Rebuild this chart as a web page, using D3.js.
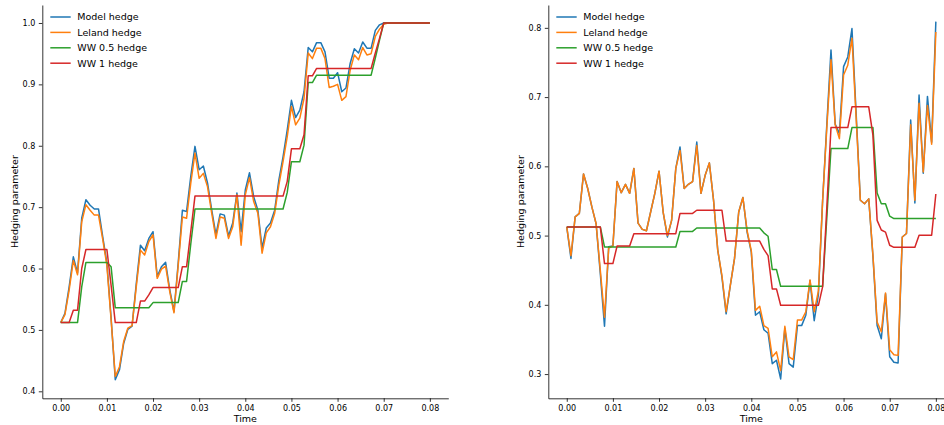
<!DOCTYPE html>
<meta charset="utf-8">
<style>
  body { margin: 0; background: #fff; }
  svg text { font-family: "DejaVu Sans", sans-serif; fill: #000; }
</style>
<script src="https://d3js.org/d3.v7.min.js"></script>
<div id="chart"></div>
<script>
// time grid: 0 .. 0.08, 88 steps
var nSteps = 88, T = 0.08;
var time = d3.range(nSteps + 1).map(function(i) { return i * T / nSteps; });

var seriesNames = ["Model hedge", "Leland hedge", "WW 0.5 hedge", "WW 1 hedge"];
var colors = ["#1f77b4", "#ff7f0e", "#2ca02c", "#d62728"];
var xTicks = [0, 0.01, 0.02, 0.03, 0.04, 0.05, 0.06, 0.07, 0.08];

// ---- left panel ----
var leftModel = [0.512, 0.527, 0.570, 0.619, 0.593, 0.682, 0.712, 0.703, 0.697, 0.697,
  0.652, 0.609, 0.520, 0.419, 0.435, 0.478, 0.501, 0.506, 0.575, 0.638,
  0.629, 0.649, 0.660, 0.587, 0.603, 0.610, 0.565, 0.530, 0.609, 0.695,
  0.693, 0.750, 0.799, 0.761, 0.767, 0.739, 0.695, 0.655, 0.689, 0.687,
  0.653, 0.674, 0.723, 0.660, 0.728, 0.756, 0.717, 0.695, 0.633, 0.666,
  0.674, 0.695, 0.744, 0.782, 0.826, 0.874, 0.846, 0.858, 0.888, 0.960,
  0.953, 0.968, 0.968, 0.953, 0.910, 0.910, 0.919, 0.888, 0.894, 0.934,
  0.958, 0.951, 0.969, 0.959, 0.959, 0.988, 0.997, 1.000, 1.000, 1.000,
  1.000, 1.000, 1.000, 1.000, 1.000, 1.000, 1.000, 1.000, 1.000];
var leftLeland = [0.512, 0.525, 0.565, 0.613, 0.590, 0.676, 0.704, 0.695, 0.687, 0.687,
  0.648, 0.605, 0.517, 0.424, 0.440, 0.481, 0.503, 0.507, 0.570, 0.630,
  0.622, 0.644, 0.655, 0.584, 0.599, 0.604, 0.562, 0.528, 0.605, 0.684,
  0.682, 0.739, 0.788, 0.747, 0.755, 0.733, 0.690, 0.649, 0.684, 0.682,
  0.649, 0.668, 0.720, 0.638, 0.720, 0.748, 0.709, 0.690, 0.625, 0.658,
  0.668, 0.690, 0.736, 0.774, 0.815, 0.864, 0.834, 0.845, 0.877, 0.951,
  0.942, 0.959, 0.959, 0.942, 0.895, 0.897, 0.900, 0.874, 0.880, 0.923,
  0.948, 0.940, 0.960, 0.948, 0.950, 0.978, 0.990, 0.998, 1.000, 1.000,
  1.000, 1.000, 1.000, 1.000, 1.000, 1.000, 1.000, 1.000, 1.000];
var leftWW05 = [0.512, 0.512, 0.512, 0.512, 0.512, 0.570, 0.610, 0.610, 0.610, 0.610,
  0.610, 0.610, 0.603, 0.536, 0.536, 0.536, 0.536, 0.536, 0.536, 0.536,
  0.536, 0.536, 0.5445, 0.5445, 0.5445, 0.5445, 0.5445, 0.5445, 0.5445, 0.579,
  0.579, 0.640, 0.697, 0.697, 0.697, 0.697, 0.697, 0.697, 0.697, 0.697,
  0.697, 0.697, 0.697, 0.697, 0.697, 0.697, 0.697, 0.697, 0.697, 0.697,
  0.697, 0.697, 0.697, 0.697, 0.724, 0.774, 0.774, 0.774, 0.801, 0.903,
  0.903, 0.915, 0.915, 0.915, 0.915, 0.915, 0.915, 0.915, 0.915, 0.915,
  0.915, 0.915, 0.915, 0.915, 0.915, 0.943, 0.972, 1.000, 1.000, 1.000,
  1.000, 1.000, 1.000, 1.000, 1.000, 1.000, 1.000, 1.000, 1.000];
var leftWW1 = [0.512, 0.512, 0.512, 0.532, 0.532, 0.600, 0.631, 0.631, 0.631, 0.631,
  0.631, 0.631, 0.573, 0.512, 0.512, 0.512, 0.512, 0.512, 0.512, 0.547,
  0.547, 0.557, 0.569, 0.569, 0.569, 0.569, 0.569, 0.569, 0.569, 0.603,
  0.603, 0.660, 0.718, 0.718, 0.718, 0.718, 0.718, 0.718, 0.718, 0.718,
  0.718, 0.718, 0.718, 0.718, 0.718, 0.718, 0.718, 0.718, 0.718, 0.718,
  0.718, 0.718, 0.718, 0.718, 0.742, 0.795, 0.795, 0.795, 0.818, 0.914,
  0.914, 0.926, 0.926, 0.926, 0.926, 0.926, 0.926, 0.926, 0.926, 0.926,
  0.926, 0.926, 0.926, 0.926, 0.926, 0.951, 0.975, 1.000, 1.000, 1.000,
  1.000, 1.000, 1.000, 1.000, 1.000, 1.000, 1.000, 1.000, 1.000];
var leftYTicks = [0.4, 0.5, 0.6, 0.7, 0.8, 0.9, 1.0];

// ---- right panel ----
var rightModel = [0.5125, 0.467, 0.527, 0.532, 0.589, 0.568, 0.541, 0.517, 0.445, 0.369,
  0.484, 0.485, 0.578, 0.562, 0.574, 0.561, 0.597, 0.518, 0.509, 0.507,
  0.534, 0.561, 0.593, 0.533, 0.498, 0.522, 0.597, 0.628, 0.568, 0.574,
  0.578, 0.635, 0.561, 0.587, 0.605, 0.551, 0.479, 0.440, 0.387, 0.428,
  0.467, 0.534, 0.555, 0.505, 0.476, 0.385, 0.390, 0.364, 0.359, 0.315,
  0.320, 0.293, 0.366, 0.315, 0.310, 0.370, 0.370, 0.385, 0.435, 0.377,
  0.415, 0.550, 0.660, 0.768, 0.661, 0.647, 0.744, 0.758, 0.799, 0.676,
  0.551, 0.546, 0.553, 0.470, 0.370, 0.351, 0.416, 0.325, 0.317, 0.316,
  0.498, 0.503, 0.667, 0.547, 0.703, 0.590, 0.701, 0.635, 0.809];
var rightLeland = [0.5125, 0.471, 0.527, 0.532, 0.589, 0.568, 0.541, 0.517, 0.450, 0.382,
  0.482, 0.485, 0.578, 0.562, 0.574, 0.561, 0.597, 0.518, 0.509, 0.507,
  0.534, 0.561, 0.593, 0.533, 0.500, 0.522, 0.597, 0.623, 0.568, 0.574,
  0.578, 0.630, 0.561, 0.587, 0.605, 0.551, 0.479, 0.442, 0.390, 0.428,
  0.467, 0.534, 0.555, 0.507, 0.478, 0.392, 0.398, 0.370, 0.366, 0.325,
  0.332, 0.305, 0.369, 0.325, 0.321, 0.378, 0.378, 0.390, 0.436, 0.390,
  0.420, 0.550, 0.655, 0.754, 0.660, 0.640, 0.732, 0.746, 0.785, 0.670,
  0.551, 0.546, 0.553, 0.472, 0.375, 0.361, 0.417, 0.335, 0.328, 0.327,
  0.498, 0.503, 0.660, 0.551, 0.691, 0.592, 0.688, 0.632, 0.794];
var rightWW05 = [0.5125, 0.5125, 0.5125, 0.5125, 0.5125, 0.5125, 0.5125, 0.5125, 0.5125, 0.4836,
  0.4836, 0.4836, 0.4836, 0.4836, 0.4836, 0.4836, 0.4836, 0.4836, 0.4836, 0.4836,
  0.4836, 0.4836, 0.4836, 0.4836, 0.4836, 0.4836, 0.4836, 0.506, 0.506, 0.506,
  0.506, 0.511, 0.511, 0.511, 0.511, 0.511, 0.511, 0.511, 0.511, 0.511,
  0.511, 0.511, 0.511, 0.511, 0.511, 0.511, 0.511, 0.504, 0.499, 0.451,
  0.451, 0.4267, 0.4267, 0.4267, 0.4267, 0.4267, 0.4267, 0.4267, 0.4267, 0.4267,
  0.4267, 0.4267, 0.525, 0.6257, 0.6257, 0.6257, 0.6257, 0.6257, 0.656, 0.656,
  0.656, 0.656, 0.656, 0.656, 0.5616, 0.546, 0.546, 0.528, 0.5245, 0.5245,
  0.5245, 0.5245, 0.5245, 0.5245, 0.5245, 0.5245, 0.5245, 0.5245, 0.5245];
var rightWW1 = [0.5125, 0.5125, 0.5125, 0.5125, 0.5125, 0.5125, 0.5125, 0.5125, 0.5125, 0.4595,
  0.4595, 0.4595, 0.485, 0.485, 0.485, 0.485, 0.5028, 0.5028, 0.5028, 0.5028,
  0.5028, 0.5028, 0.5028, 0.5028, 0.5028, 0.5028, 0.5028, 0.532, 0.532, 0.532,
  0.532, 0.5366, 0.5366, 0.5366, 0.5366, 0.5366, 0.5366, 0.5366, 0.492, 0.492,
  0.492, 0.492, 0.492, 0.492, 0.492, 0.492, 0.492, 0.480, 0.471, 0.423,
  0.423, 0.3993, 0.3993, 0.3993, 0.3993, 0.3993, 0.3993, 0.3993, 0.3993, 0.3993,
  0.3993, 0.426, 0.540, 0.656, 0.656, 0.656, 0.656, 0.656, 0.686, 0.686,
  0.686, 0.686, 0.686, 0.645, 0.522, 0.508, 0.505, 0.486, 0.483, 0.483,
  0.483, 0.483, 0.483, 0.483, 0.5005, 0.5005, 0.5005, 0.5005, 0.560];
var rightYTicks = [0.3, 0.4, 0.5, 0.6, 0.7, 0.8];

var svg = d3.select("#chart").append("svg")
    .attr("width", 944)
    .attr("height", 425);

var axW = 406, axH = 393.3, axTop = 5;

function drawPanel(left, series, yDomain, yTicks) {
    var g = svg.append("g").attr("transform", "translate(" + left + "," + axTop + ")");

    var x = d3.scaleLinear().domain([-0.004, 0.084]).range([0, axW]);
    var y = d3.scaleLinear().domain(yDomain).range([axH, 0]);

    var line = d3.line()
        .x(function(d, i) { return x(time[i]); })
        .y(function(d) { return y(d); });

    series.forEach(function(s, k) {
        g.append("path")
            .datum(s)
            .attr("d", line)
            .attr("fill", "none")
            .attr("stroke", colors[k])
            .attr("stroke-width", 1.5)
            .attr("stroke-linejoin", "round");
    });

    // axes
    var xAxis = g.append("g")
        .attr("transform", "translate(0," + axH + ")")
        .call(d3.axisBottom(x).tickValues(xTicks).tickFormat(d3.format(".2f"))
            .tickSizeInner(3.5).tickSizeOuter(0).tickPadding(3.5));
    var yAxis = g.append("g")
        .call(d3.axisLeft(y).tickValues(yTicks).tickFormat(d3.format(".1f"))
            .tickSizeInner(3.5).tickSizeOuter(0).tickPadding(3.5));
    [xAxis, yAxis].forEach(function(a) {
        a.selectAll("path, line").attr("stroke", "#000").attr("stroke-width", 0.8);
        a.selectAll("text").style("font-size", "8px").attr("fill", "#000");
    });

    g.append("text")
        .attr("x", axW / 2)
        .attr("y", axH + 24)
        .attr("text-anchor", "middle")
        .style("font-size", "9.5px")
        .text("Time");

    g.append("text")
        .attr("transform", "translate(-28," + (axH / 2) + ") rotate(-90)")
        .attr("text-anchor", "middle")
        .attr("dy", "0.35em")
        .style("font-size", "9.5px")
        .text("Hedging parameter");

    // legend
    var lg = g.append("g").attr("transform", "translate(8,12)");
    seriesNames.forEach(function(name, k) {
        var row = lg.append("g").attr("transform", "translate(0," + (k * 15.4) + ")");
        row.append("line")
            .attr("x1", 0).attr("x2", 20.4)
            .attr("stroke", colors[k])
            .attr("stroke-width", 1.5);
        row.append("text")
            .attr("x", 27)
            .attr("dy", "0.35em")
            .style("font-size", "9.5px")
            .text(name);
    });
}

drawPanel(42.3, [leftModel, leftLeland, leftWW05, leftWW1], [0.3886, 1.0293], leftYTicks);
drawPanel(548.3, [rightModel, rightLeland, rightWW05, rightWW1], [0.265, 0.833], rightYTicks);
</script>
